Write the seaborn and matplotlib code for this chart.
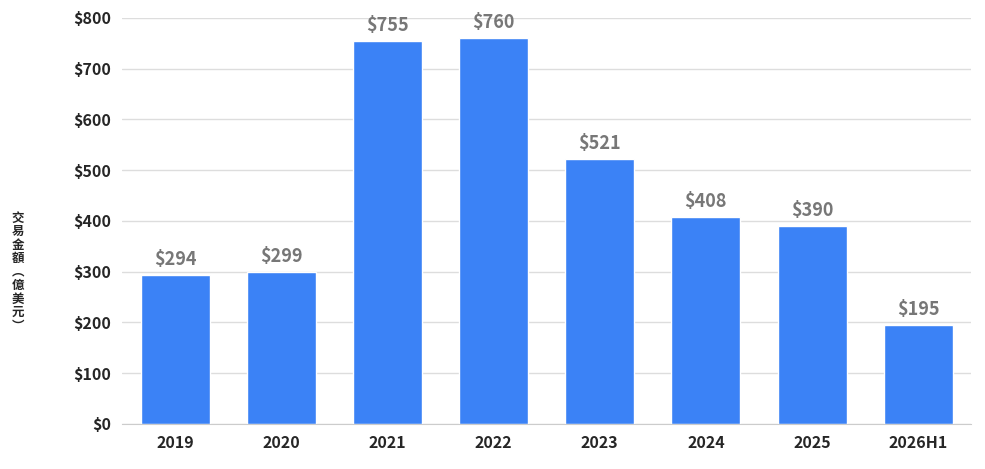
import matplotlib
matplotlib.use("Agg")
import matplotlib.pyplot as plt
import seaborn as sns
import pandas as pd

years = ["2019", "2020", "2021", "2022", "2023", "2024", "2025", "2026H1"]
values = [294, 299, 755, 760, 521, 408, 390, 195]
ylabel_chars = ["交", "易", "金", "額", "︵", "億", "美", "元", "︶"]

sns.set_style("white")
plt.rcParams['font.family'] = ['Noto Sans CJK TC', 'DejaVu Sans']

df = pd.DataFrame({"year": years, "value": values})
fig = plt.figure(figsize=(9.85, 4.69), dpi=100)
ax = fig.add_axes([0.124, 0.096, 0.862, 0.866])
sns.barplot(data=df, x="year", y="value", color="#3b82f6", saturation=1, width=0.65, ax=ax)

for i, v in enumerate(values):
    ax.text(i, v + 12, f"${v}", ha="center", va="bottom", fontsize=13,
            fontweight="bold", color="#777777")

ax.set_ylim(0, 800)
ax.set_yticks(range(0, 801, 100))
ax.set_yticklabels([f"${t}" for t in range(0, 801, 100)])
ax.yaxis.grid(True, color="#dddddd", linewidth=1)
ax.set_axisbelow(True)
for s in ["top", "right", "left"]:
    ax.spines[s].set_visible(False)
ax.spines["bottom"].set_color("#cccccc")
ax.tick_params(axis="both", length=0, labelsize=11.5, pad=8)
for lbl in ax.get_xticklabels() + ax.get_yticklabels():
    lbl.set_fontweight("bold")
ax.set_xlabel("")
ax.set_ylabel("")
fig.text(0.018, 0.42, "\n".join(ylabel_chars), ha="center", va="center",
         fontsize=9, fontweight="bold", linespacing=1.05)

fig.savefig("out.png", dpi=100)
